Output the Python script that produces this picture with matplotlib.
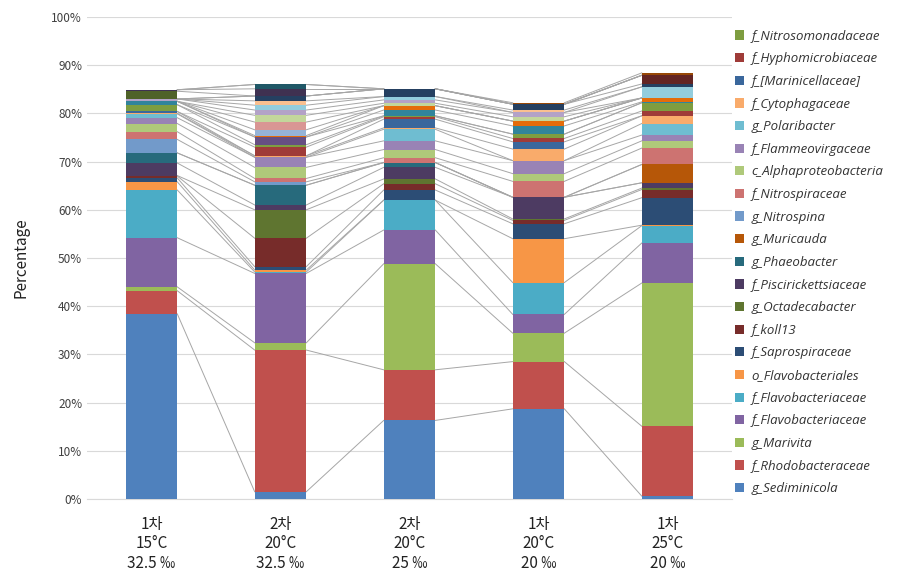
import matplotlib
matplotlib.use("Agg")
import matplotlib.pyplot as plt
from matplotlib.patches import Patch
import numpy as np

plt.rcParams['font.family'] = ['Noto Sans CJK KR', 'DejaVu Sans']

SAMPLES = ["1차\n15°C\n32.5 ‰", "2차\n20°C\n32.5 ‰", "2차\n20°C\n25 ‰",
           "1차\n20°C\n20 ‰", "1차\n25°C\n20 ‰"]

# taxa, bottom of stack first (only the first 21 appear in the legend)
TAXA = ["g_Sediminicola", "f_Rhodobacteraceae", "g_Marivita", "f_Flavobacteriaceae",
        "f_Flavobacteriaceae", "o_Flavobacteriales", "f_Saprospiraceae", "f_koll13",
        "g_Octadecabacter", "f_Piscirickettsiaceae", "g_Phaeobacter", "g_Muricauda",
        "g_Nitrospina", "f_Nitrospiraceae", "c_Alphaproteobacteria", "f_Flammeovirgaceae",
        "g_Polaribacter", "f_Cytophagaceae", "f_[Marinicellaceae]", "f_Hyphomicrobiaceae",
        "f_Nitrosomonadaceae",
        "other22", "other23", "other24", "other25", "other26", "other27", "other28",
        "other29", "other30", "other31", "other32", "other33", "other34", "other35",
        "other36"]
N_LEGEND = 21

COLORS = ["#4F81BD", "#C0504D", "#9BBB59", "#8064A2", "#4BACC6", "#F79646",
          "#2C4D75", "#772C2A", "#5F7530", "#4D3B62", "#276A7C", "#B65708",
          "#729ACA", "#CD7371", "#AFC97A", "#9983B5", "#6FBDD1", "#F9AB6B",
          "#3A679C", "#9F3B38", "#7E9D40", "#664E82", "#31849B", "#E46C0A",
          "#95B3D7", "#D99694", "#C3D69B", "#B3A2C7", "#93CDDD", "#FAC090",
          "#254061", "#632523", "#4F6228", "#3F3151", "#205867", "#974806"]

# percentage of each taxon, per sample (same order as TAXA)
s1 = [38.4, 4.8, 0.8, 10.2, 9.9, 1.7, 0.8, 0.4, 0.1, 2.6, 2.1, 0.0, 2.8, 1.6, 1.7, 1.2,
      0.8, 0.1, 0.4, 0.0, 1.4, 0.0, 0.7, 0.0, 0.0, 0.0, 0.0, 0.5, 0.0, 0.0, 0.0, 0.0,
      1.6, 0.3, 0.0, 0.0]
s2 = [1.5, 29.4, 1.5, 14.4, 0.3, 0.4, 0.7, 5.9, 5.9, 1.0, 4.1, 0.0, 0.7, 0.7, 2.3, 2.1,
      0.0, 0.3, 0.0, 1.8, 0.5, 1.6, 0.0, 0.3, 1.2, 1.6, 1.4, 1.1, 1.0, 0.9, 1.0, 0.0,
      0.0, 1.5, 0.9, 0.0]
s3 = [16.3, 10.5, 22.0, 7.0, 6.2, 0.0, 2.1, 1.3, 1.0, 2.4, 1.0, 0.0, 0.0, 1.0, 1.7, 1.8,
      2.4, 0.3, 1.8, 0.5, 0.2, 0.0, 1.2, 0.9, 0.0, 0.0, 0.5, 0.7, 0.7, 0.0, 1.6, 0.0,
      0.0, 0.0, 0.0, 0.0]
s4 = [18.7, 9.8, 5.9, 3.9, 6.6, 9.1, 3.1, 0.7, 0.3, 4.5, 0.0, 0.0, 0.0, 3.3, 1.6, 2.7,
      0.0, 2.4, 1.5, 0.7, 0.9, 0.0, 1.7, 1.0, 0.0, 0.0, 0.9, 0.9, 0.0, 0.5, 1.2, 0.0,
      0.0, 0.0, 0.0, 0.3]
s5 = [0.6, 14.5, 29.7, 8.3, 3.6, 0.1, 5.7, 1.7, 0.3, 1.1, 0.0, 3.8, 0.0, 3.4, 1.5, 1.2,
      2.4, 1.6, 0.0, 1.0, 1.7, 0.0, 0.2, 0.8, 0.0, 0.0, 0.0, 0.0, 2.3, 0.0, 0.6, 1.8,
      0.0, 0.0, 0.0, 0.5]

data = np.array([s1, s2, s3, s4, s5]).T   # shape (taxa, samples)
x = np.arange(len(SAMPLES))
w = 0.40

fig = plt.figure(figsize=(9.06, 5.8), dpi=100)
ax = fig.add_axes([0.096, 0.1397, 0.712, 0.831])

bottom = np.zeros(len(SAMPLES))
handles = []
for k in range(len(TAXA)):
    ax.bar(x, data[k], w, bottom=bottom, color=COLORS[k], zorder=3, linewidth=0)
    top = bottom + data[k]
    # series lines between neighbouring bars
    for i in range(len(x) - 1):
        ax.plot([x[i] + w / 2, x[i + 1] - w / 2], [top[i], top[i + 1]],
                color="#A6A6A6", lw=0.7, zorder=2)
    if k < N_LEGEND:
        handles.append(Patch(facecolor=COLORS[k], label=TAXA[k]))
    bottom = top

ax.set_xlim(-0.5, len(SAMPLES) - 0.5)
ax.set_ylim(0, 100)
ax.set_yticks(np.arange(0, 101, 10))
ax.set_yticklabels([f"{v}%" for v in range(0, 101, 10)], fontsize=8.5, color="#404040")
ax.set_xticks(x)
ax.set_xticklabels(SAMPLES, fontsize=11, color="#222222", linespacing=1.2)
ax.tick_params(axis="both", length=0)
ax.tick_params(axis="x", pad=12)
ax.grid(axis="y", color="#D9D9D9", lw=0.8, zorder=0)
for s in ["top", "right", "left"]:
    ax.spines[s].set_visible(False)
ax.spines["bottom"].set_color("#D9D9D9")
ax.set_ylabel("Percentage", fontsize=11, color="#222222", labelpad=16)

leg = fig.legend(handles[::-1], [h.get_label() for h in handles[::-1]],
                 loc="upper left", bbox_to_anchor=(0.805, 0.958), frameon=False,
                 prop={"style": "italic", "size": 9.5, "family": "Open Sans"},
                 handlelength=0.7, handleheight=0.7, handletextpad=0.6,
                 labelspacing=0.73, borderaxespad=0)
for t in leg.get_texts():
    t.set_color("#333333")

fig.savefig("out.png", dpi=100)
